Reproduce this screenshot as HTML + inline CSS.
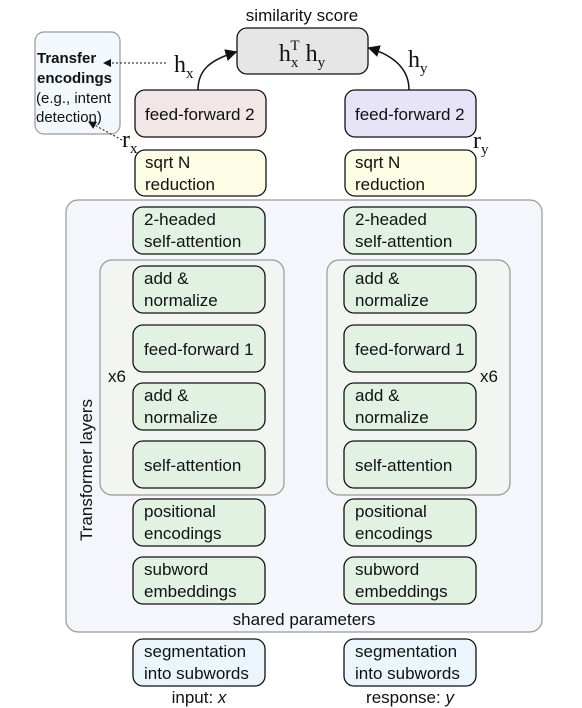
<!DOCTYPE html>
<html><head><meta charset="utf-8"><style>
body{margin:0;background:#fff}
svg{display:block;font-family:"Liberation Sans",sans-serif}
.b{stroke:#111;stroke-width:1.3}
.t{font-size:17px;fill:#111}
</style></head><body>
<svg width="582" height="708" viewBox="0 0 582 708">
<defs><marker id="ah" markerWidth="8" markerHeight="8" refX="7" refY="4" orient="auto"><path d="M0,0 L8,4 L0,8 z" fill="#111"/></marker></defs>
<text x="302" y="21" text-anchor="middle" font-size="17" fill="#111">similarity score</text>
<g><rect x="237" y="28" width="131" height="46" rx="10" fill="#e6e6e6" class="b"/>
<text x="302" y="61" text-anchor="middle" font-family="Liberation Serif,serif" font-size="24" fill="#111">h<tspan font-size="15" dy="6">x</tspan><tspan font-size="15" dx="-8" dy="-17">T</tspan><tspan dy="11"> h</tspan><tspan font-size="15" dy="6">y</tspan></text></g>
<g><rect x="35" y="32" width="85" height="102" rx="9" fill="#f3f8fd" stroke="#999" stroke-width="1.2"/>
<text x="37" y="63" font-size="15" font-weight="bold" fill="#111">Transfer</text>
<text x="37" y="83" font-size="15" font-weight="bold" fill="#111">encodings</text>
<text x="36" y="103" font-size="15" fill="#111">(e.g., intent</text>
<text x="36" y="122" font-size="15" fill="#111">detection)</text></g>
<path d="M166,63 L104,63" stroke="#111" stroke-dasharray="2,2" fill="none" marker-end="url(#ah)"/>
<path d="M122,140 L89,122" stroke="#111" stroke-dasharray="2,2" fill="none" marker-end="url(#ah)"/>
<path d="M198,90 C198,70 210,60 236,52" stroke="#111" stroke-width="1.5" fill="none" marker-end="url(#ah)"/>
<path d="M409,90 C409,70 395,56 369,48" stroke="#111" stroke-width="1.5" fill="none" marker-end="url(#ah)"/>
<text x="174" y="72" font-family="Liberation Serif,serif" font-size="24" fill="#111">h<tspan font-size="15" dy="6">x</tspan></text>
<text x="408" y="67" font-family="Liberation Serif,serif" font-size="24" fill="#111">h<tspan font-size="15" dy="6">y</tspan></text>
<text x="122" y="147" font-family="Liberation Serif,serif" font-size="24" fill="#111">r<tspan font-size="15" dy="6">x</tspan></text>
<text x="473" y="148" font-family="Liberation Serif,serif" font-size="24" fill="#111">r<tspan font-size="15" dy="6">y</tspan></text>
<rect x="135" y="90" width="131" height="47" rx="10" fill="#f2e6e6" class="b"/>
<text x="145" y="120" class="t">feed-forward 2</text>
<rect x="345" y="90" width="131" height="47" rx="10" fill="#e8e4f7" class="b"/>
<text x="355" y="120" class="t">feed-forward 2</text>
<rect x="135" y="150" width="131" height="46" rx="10" fill="#fdfde6" class="b"/>
<text x="145" y="168" class="t">sqrt N</text><text x="145" y="190" class="t">reduction</text>
<rect x="345" y="150" width="131" height="46" rx="10" fill="#fdfde6" class="b"/>
<text x="355" y="168" class="t">sqrt N</text><text x="355" y="190" class="t">reduction</text>
<rect x="66" y="200" width="476" height="432" rx="12" fill="#f4f6fb" stroke="#999" stroke-width="1.2"/>
<text transform="translate(92,470) rotate(-90)" text-anchor="middle" font-size="17" fill="#111">Transformer layers</text>
<text x="304" y="625" text-anchor="middle" font-size="17" fill="#111">shared parameters</text>
<rect x="100" y="260" width="184" height="235" rx="12" fill="#f3f5f3" stroke="#999" stroke-width="1.2"/>
<rect x="327" y="260" width="183" height="235" rx="12" fill="#f3f5f3" stroke="#999" stroke-width="1.2"/>
<text x="108" y="382" font-size="17" fill="#111">x6</text>
<text x="480" y="382" font-size="17" fill="#111">x6</text>
<g id="boxes"></g>
<text x="199" y="703" text-anchor="middle" font-size="17" fill="#111">input: <tspan font-style="italic">x</tspan></text>
<text x="410" y="703" text-anchor="middle" font-size="17" fill="#111">response: <tspan font-style="italic">y</tspan></text>
</svg>
<script>
const layers=[["2-headed","self-attention",207,"two-headed-self-attention"],["add &","normalize",266,"add-normalize-top"],["feed-forward 1","",325,"feed-forward-1"],["add &","normalize",383,"add-normalize-bottom"],["self-attention","",441,"self-attention"],["positional","encodings",499,"positional-encodings"],["subword","embeddings",557,"subword-embeddings"],["segmentation","into subwords",639,"segmentation"]];
const g=document.getElementById('boxes'),NS="http://www.w3.org/2000/svg";
[[133,'left'],[344,'right']].forEach(([x,side])=>{layers.forEach(([a,b,y,n],i)=>{
const grp=document.createElementNS(NS,'g');


const r=document.createElementNS(NS,'rect');
r.setAttribute('x',x);r.setAttribute('y',y);r.setAttribute('width',132);r.setAttribute('height',47);r.setAttribute('rx',10);
r.setAttribute('fill',i==7?'#eaf6fc':'#e2f2e2');r.setAttribute('class','b');grp.appendChild(r);
const lines=b?[[a,y+18],[b,y+40]]:[[a,y+30]];
lines.forEach(([s,yy])=>{const t=document.createElementNS(NS,'text');t.setAttribute('x',x+11);t.setAttribute('y',yy);t.setAttribute('class','t');t.textContent=s;grp.appendChild(t);});
g.appendChild(grp);});});
</script>
</body></html>
